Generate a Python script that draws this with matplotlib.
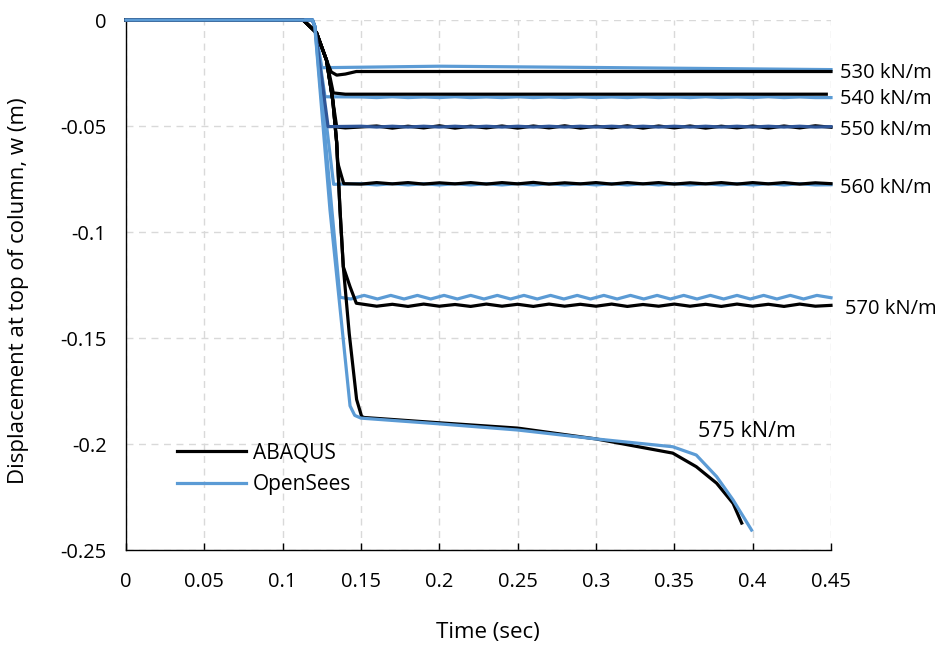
import matplotlib
matplotlib.use("Agg")
import matplotlib.pyplot as plt
from matplotlib.lines import Line2D

plt.rcParams['font.family'] = ['Open Sans', 'DejaVu Sans']

# ---------------- data ----------------
x_ticks = [0, 0.05, 0.1, 0.15, 0.2, 0.25, 0.3, 0.35, 0.4, 0.45]
x_tick_labels = ['0', '0.05', '0.1', '0.15', '0.2', '0.25', '0.3', '0.35', '0.4', '0.45']
y_ticks = [0, -0.05, -0.1, -0.15, -0.2, -0.25]
y_tick_labels = ['0', '-0.05', '-0.1', '-0.15', '-0.2', '-0.25']

# shared sample times for the oscillating tails
t_tail = [0.15, 0.16, 0.17, 0.18, 0.19, 0.20, 0.21, 0.22, 0.23, 0.24, 0.25,
          0.26, 0.27, 0.28, 0.29, 0.30, 0.31, 0.32, 0.33, 0.34, 0.35, 0.36,
          0.37, 0.38, 0.39, 0.40, 0.41, 0.42, 0.43, 0.44, 0.45]

# ---- OpenSees (blue) ----
os530_t = [0, 0.119, 0.1205, 0.125, 0.2, 0.3, 0.45]
os530_w = [0, 0, -0.003, -0.0225, -0.0218, -0.0224, -0.0234]

os540_t = [0, 0.119, 0.1205, 0.127] + t_tail
os540_w = [0, 0, -0.003, -0.0362,
           -0.0363, -0.0366, -0.0362, -0.0366, -0.0363, -0.0366, -0.0362, -0.0366,
           -0.0363, -0.0366, -0.0362, -0.0366, -0.0363, -0.0366, -0.0362, -0.0366,
           -0.0363, -0.0366, -0.0362, -0.0366, -0.0363, -0.0366, -0.0362, -0.0366,
           -0.0363, -0.0366, -0.0362, -0.0366, -0.0363, -0.0366, -0.0366]

os550_t = [0, 0.119, 0.1205, 0.129] + t_tail
os550_w = [0, 0, -0.003, -0.0503,
           -0.0501, -0.0505, -0.0501, -0.0505, -0.0501, -0.0505, -0.0501, -0.0505,
           -0.0501, -0.0505, -0.0501, -0.0505, -0.0501, -0.0505, -0.0501, -0.0505,
           -0.0501, -0.0505, -0.0501, -0.0505, -0.0501, -0.0505, -0.0501, -0.0505,
           -0.0501, -0.0505, -0.0501, -0.0505, -0.0501, -0.0505, -0.0503]

os560_t = [0, 0.119, 0.1205, 0.1325] + t_tail
os560_w = [0, 0, -0.003, -0.0775,
           -0.0772, -0.0778, -0.0772, -0.0778, -0.0772, -0.0778, -0.0772, -0.0778,
           -0.0772, -0.0778, -0.0772, -0.0778, -0.0772, -0.0778, -0.0772, -0.0778,
           -0.0772, -0.0778, -0.0772, -0.0778, -0.0772, -0.0778, -0.0772, -0.0778,
           -0.0772, -0.0778, -0.0772, -0.0778, -0.0772, -0.0778, -0.0777]

os570_t = [0, 0.119, 0.1205, 0.1366, 0.1435, 0.152, 0.1605, 0.169, 0.1775, 0.186,
           0.1945, 0.203, 0.2115, 0.220, 0.2285, 0.237, 0.2455, 0.254, 0.2625,
           0.271, 0.2795, 0.288, 0.2965, 0.305, 0.3135, 0.322, 0.3305, 0.339,
           0.3475, 0.356, 0.3645, 0.373, 0.3815, 0.390, 0.3985, 0.407, 0.4155,
           0.424, 0.4325, 0.441, 0.45]
os570_w = [0, 0, -0.003, -0.1308, -0.1316, -0.1299, -0.1316, -0.1299, -0.1316,
           -0.1299, -0.1316, -0.1299, -0.1316, -0.1299, -0.1316, -0.1299, -0.1316,
           -0.1299, -0.1316, -0.1299, -0.1316, -0.1299, -0.1316, -0.1299, -0.1316,
           -0.1299, -0.1316, -0.1299, -0.1316, -0.1299, -0.1316, -0.1299, -0.1316,
           -0.1299, -0.1316, -0.1299, -0.1316, -0.1299, -0.1316, -0.1299, -0.1310]

os575_t = [0, 0.119, 0.1205, 0.1302, 0.143, 0.146, 0.150, 0.20, 0.25, 0.30,
           0.349, 0.364, 0.377, 0.3875, 0.3993]
os575_w = [0, 0, -0.003, -0.0896, -0.182, -0.1865, -0.1878, -0.1905, -0.1934,
           -0.1976, -0.2013, -0.2052, -0.2154, -0.2264, -0.2406]

# ---- ABAQUS (black) ----
ab530_t = [0, 0.113, 0.1216, 0.128, 0.131, 0.1345, 0.140, 0.147, 0.45]
ab530_w = [0, 0, -0.006, -0.019, -0.0245, -0.026, -0.0255, -0.0243, -0.0243]

ab540_t = [0, 0.113, 0.1216, 0.128, 0.1323, 0.140, 0.447]
ab540_w = [0, 0, -0.006, -0.019, -0.0344, -0.0350, -0.0350]

ab550_t = [0, 0.113, 0.1216, 0.128, 0.132, 0.1345, 0.14] + t_tail[1:]
ab550_w = [0, 0, -0.006, -0.019, -0.038, -0.0505, -0.0509,
           -0.0500, -0.0510, -0.0501, -0.0509, -0.0499, -0.0510, -0.0501,
           -0.0509, -0.0500, -0.0510, -0.0500, -0.0509, -0.0499, -0.0510, -0.0501,
           -0.0509, -0.0499, -0.0510, -0.0500, -0.0509, -0.0500, -0.0510, -0.0501,
           -0.0509, -0.0500, -0.0510, -0.0500, -0.0509, -0.0499, -0.0506]

ab560_t = [0, 0.113, 0.1216, 0.128, 0.132, 0.1345, 0.135, 0.1377, 0.139] + t_tail
ab560_w = [0, 0, -0.006, -0.019, -0.038, -0.058, -0.067, -0.074, -0.0772,
           -0.0774, -0.0767, -0.0773, -0.0767, -0.0774, -0.0768, -0.0773, -0.0767,
           -0.0774, -0.0767, -0.0773, -0.0766, -0.0774, -0.0768, -0.0773, -0.0767,
           -0.0774, -0.0767, -0.0773, -0.0767, -0.0774, -0.0768, -0.0773, -0.0767,
           -0.0774, -0.0767, -0.0773, -0.0767, -0.0774, -0.0768, -0.0772]

ab570_t = [0, 0.113, 0.1216, 0.128, 0.132, 0.1345, 0.1366, 0.1387, 0.143, 0.147] + t_tail[1:]
ab570_w = [0, 0, -0.006, -0.019, -0.038, -0.058, -0.0896, -0.1164, -0.1258, -0.1336,
           -0.1350, -0.1341, -0.1351, -0.1340, -0.1350, -0.1342, -0.1351, -0.1340,
           -0.1350, -0.1341, -0.1351, -0.1340, -0.1350, -0.1341, -0.1350, -0.1340,
           -0.1351, -0.1342, -0.1350, -0.1340, -0.1350, -0.1341, -0.1351, -0.1340,
           -0.1350, -0.1341, -0.1351, -0.1340, -0.1350, -0.1346]

ab575_t = [0, 0.113, 0.1216, 0.128, 0.132, 0.1345, 0.1366, 0.1387, 0.1425, 0.1472,
           0.1504, 0.152, 0.20, 0.25, 0.30, 0.349, 0.364, 0.377, 0.3875, 0.393]
ab575_w = [0, 0, -0.006, -0.019, -0.038, -0.058, -0.0896, -0.1164, -0.148, -0.179,
           -0.187, -0.1875, -0.190, -0.1925, -0.1976, -0.2043, -0.2107, -0.2185,
           -0.228, -0.2373]

series_labels = ['530 kN/m', '540 kN/m', '550 kN/m', '560 kN/m', '570 kN/m', '575 kN/m']
label_x = [0.4557, 0.4557, 0.4557, 0.4557, 0.459, 0.365]
label_y = [-0.0250, -0.0373, -0.0519, -0.0792, -0.1363, -0.1943]

legend_labels = ['ABAQUS', 'OpenSees']

# ---------------- style ----------------
BLUE = '#5b9bd5'
NAVY = '#2e5597'
BLACK = '#000000'
LW = 2.3
FS_TICK = 14.5
FS_LAB = 16

fig = plt.figure(figsize=(9.41, 6.5), dpi=100)
ax = fig.add_axes([126 / 941, 1 - 550 / 650, 705 / 941, 530 / 650])

# (t, w, colour, zorder)
curves = [
    (os530_t, os530_w, BLUE, 3), (os540_t, os540_w, BLUE, 3),
    (os550_t, os550_w, NAVY, 4.5), (os560_t, os560_w, BLUE, 3),
    (os570_t, os570_w, BLUE, 3),
    (ab530_t, ab530_w, BLACK, 4), (ab540_t, ab540_w, BLACK, 4),
    (ab550_t, ab550_w, BLACK, 4), (ab560_t, ab560_w, BLACK, 4),
    (ab570_t, ab570_w, BLACK, 4), (ab575_t, ab575_w, BLACK, 4),
    (os575_t, os575_w, BLUE, 5),
]
for t, w, c, z in curves:
    ax.plot(t, w, color=c, lw=LW, clip_on=False, zorder=z, solid_joinstyle='round')

ax.set_xlim(0, 0.45)
ax.set_ylim(-0.25, 0)
ax.set_xticks(x_ticks)
ax.set_xticklabels(x_tick_labels)
ax.set_yticks(y_ticks)
ax.set_yticklabels(y_tick_labels)

ax.grid(True, color='#d9d9d9', linestyle=(0, (5, 4)), linewidth=1.0, zorder=0)
ax.set_axisbelow(True)
for s in ['top', 'right']:
    ax.spines[s].set_visible(False)
for s in ['left', 'bottom']:
    ax.spines[s].set_color('black')
    ax.spines[s].set_linewidth(1.0)

ax.tick_params(axis='x', direction='in', length=5, width=1, pad=16, labelsize=FS_TICK)
ax.tick_params(axis='y', length=0, pad=14, labelsize=FS_TICK)

ax.set_xlabel('Time (sec)', fontsize=FS_LAB)
ax.xaxis.set_label_coords(0.514, -0.135)
ax.set_ylabel('Displacement at top of column, w (m)', fontsize=16)
ax.yaxis.set_label_coords(-0.137, 0.49)

label_fs = [14.5, 14.5, 14.5, 14.5, 14.5, 15.5]
for lab, lx, ly, fs in zip(series_labels, label_x, label_y, label_fs):
    ax.text(lx, ly, lab, fontsize=fs, ha='left', va='center', clip_on=False)

handles = [Line2D([], [], color=BLACK, lw=LW), Line2D([], [], color=BLUE, lw=LW)]
ax.legend(handles, legend_labels, loc='upper left', bbox_to_anchor=(0.0723, 0.203),
          frameon=False, fontsize=15, handlelength=3.3, handletextpad=0.35,
          borderpad=0, borderaxespad=0, labelspacing=0.5)

fig.savefig('out.png', dpi=100)
